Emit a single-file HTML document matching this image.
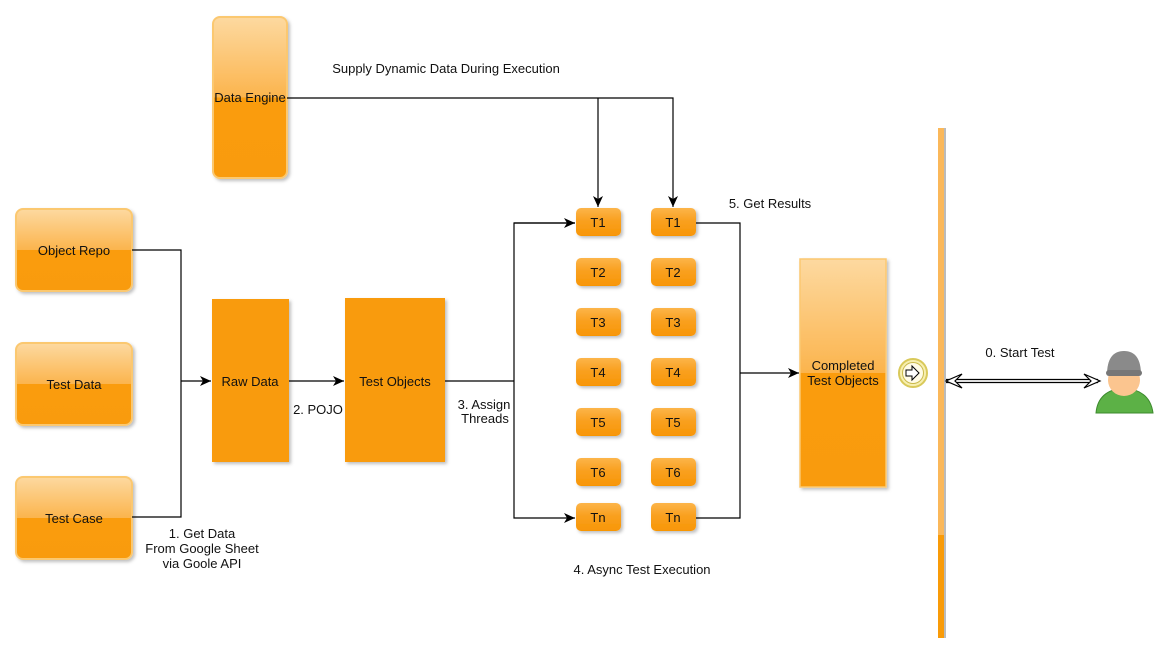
<!DOCTYPE html>
<html><head><meta charset="utf-8"><style>
body{margin:0;background:#fff;}
svg{display:block;font-family:"Liberation Sans","DejaVu Sans",sans-serif;font-size:13px;}
</style></head><body>
<svg width="1168" height="654" viewBox="0 0 1168 654" xmlns="http://www.w3.org/2000/svg">
<defs>
<linearGradient id="g" x1="0" y1="0" x2="0" y2="1">
<stop offset="0" stop-color="#fdd9a0"/><stop offset="0.5" stop-color="#fbb44d"/><stop offset="0.5" stop-color="#fa9c0c"/><stop offset="1" stop-color="#f99b08"/>
</linearGradient>
<linearGradient id="t" x1="0" y1="0" x2="0" y2="1">
<stop offset="0" stop-color="#fcb54a"/><stop offset="0.45" stop-color="#f9a020"/><stop offset="1" stop-color="#f89605"/>
</linearGradient>
<marker id="a" markerWidth="12" markerHeight="10" refX="11" refY="5" orient="auto" markerUnits="userSpaceOnUse"><path d="M0,0 L11,5 L0,10 L3,5 Z" fill="#000"/></marker>
<filter id="s" x="-10%" y="-10%" width="130%" height="130%"><feDropShadow dx="2" dy="2" stdDeviation="1.5" flood-color="#000" flood-opacity="0.25"/></filter>
</defs>

<g stroke="#fbc870" stroke-width="2" fill="url(#g)" filter="url(#s)">
<rect x="213" y="17" width="74" height="161" rx="7"/>
<rect x="16" y="209" width="116" height="82" rx="7"/>
<rect x="16" y="343" width="116" height="82" rx="7"/>
<rect x="16" y="477" width="116" height="82" rx="7"/>
</g>
<g fill="#f99b08" filter="url(#s)">
<rect x="212" y="299" width="77" height="163"/>
<rect x="345" y="298" width="100" height="164"/>
</g>
<rect x="800" y="259" width="86" height="228" fill="url(#g)" stroke="#fbc870" stroke-width="1.5" filter="url(#s)"/>

<g fill="url(#t)" filter="url(#s)">
<rect x="576" y="208" width="45" height="28" rx="5"/><rect x="651" y="208" width="45" height="28" rx="5"/>
<rect x="576" y="258" width="45" height="28" rx="5"/><rect x="651" y="258" width="45" height="28" rx="5"/>
<rect x="576" y="308" width="45" height="28" rx="5"/><rect x="651" y="308" width="45" height="28" rx="5"/>
<rect x="576" y="358" width="45" height="28" rx="5"/><rect x="651" y="358" width="45" height="28" rx="5"/>
<rect x="576" y="408" width="45" height="28" rx="5"/><rect x="651" y="408" width="45" height="28" rx="5"/>
<rect x="576" y="458" width="45" height="28" rx="5"/><rect x="651" y="458" width="45" height="28" rx="5"/>
<rect x="576" y="503" width="45" height="28" rx="5"/><rect x="651" y="503" width="45" height="28" rx="5"/>
</g>

<rect x="938" y="128" width="6" height="510" fill="#fbb85a"/>
<rect x="938" y="535" width="6" height="103" fill="#f99b08"/>
<rect x="944" y="128" width="2" height="510" fill="#bbb"/>

<g stroke="#000" stroke-width="1.2" fill="none">
<polyline points="132,250 181,250 181,517 132,517"/>
<line x1="181" y1="381" x2="211" y2="381" marker-end="url(#a)"/>
<line x1="289" y1="381" x2="344" y2="381" marker-end="url(#a)"/>
<polyline points="445,381 514,381"/>
<polyline points="575,223 514,223 514,518 575,518" marker-end="url(#a)"/>
<line x1="514" y1="223" x2="575" y2="223" marker-end="url(#a)"/>
<polyline points="287,98 673,98 673,207" marker-end="url(#a)"/>
<line x1="598" y1="98" x2="598" y2="207" marker-end="url(#a)"/>
<polyline points="696,223 740,223 740,518 696,518"/>
<line x1="740" y1="373" x2="799" y2="373" marker-end="url(#a)"/>
<line x1="946" y1="379.5" x2="1098" y2="379.5"/>
<line x1="946" y1="382.5" x2="1098" y2="382.5"/>
<path d="M962,374 L946,381 L962,388 L955,381 Z" fill="#fff"/>
<path d="M1084,374 L1100,381 L1084,388 L1091,381 Z" fill="#fff"/>
</g>

<circle cx="913" cy="373" r="14" fill="#f7efb0" stroke="#d9c95a" stroke-width="2"/>
<circle cx="913" cy="373" r="10.5" fill="#fffbe6" stroke="#c9b94a" stroke-width="1"/>
<path d="M906,370 L912,370 L912,366 L919,373 L912,380 L912,376 L906,376 Z" fill="#fff" stroke="#000" stroke-width="1"/>

<path d="M1096,413 Q1098,390 1124,388 Q1150,390 1153,413 Z" fill="#5cb146" stroke="#3d8a2e" stroke-width="1"/>
<ellipse cx="1124" cy="380" rx="16" ry="16" fill="#fbc58f"/>
<path d="M1107,375 Q1107,351 1124,351 Q1141,351 1141,375 Z" fill="#8a8a8a"/>
<rect x="1106" y="370" width="36" height="6" rx="3" fill="#777"/>

<g fill="#111" text-anchor="middle">
<text x="250" y="102">Data Engine</text>
<text x="74" y="255">Object Repo</text>
<text x="74" y="389">Test Data</text>
<text x="74" y="523">Test Case</text>
<text x="250" y="386">Raw Data</text>
<text x="395" y="386">Test Objects</text>
<text x="843" y="370">Completed</text>
<text x="843" y="385">Test Objects</text>
<text x="598" y="227">T1</text><text x="673" y="227">T1</text>
<text x="598" y="277">T2</text><text x="673" y="277">T2</text>
<text x="598" y="327">T3</text><text x="673" y="327">T3</text>
<text x="598" y="377">T4</text><text x="673" y="377">T4</text>
<text x="598" y="427">T5</text><text x="673" y="427">T5</text>
<text x="598" y="477">T6</text><text x="673" y="477">T6</text>
<text x="598" y="522">Tn</text><text x="673" y="522">Tn</text>
<text x="446" y="73">Supply Dynamic Data During Execution</text>
<text x="770" y="208">5. Get Results</text>
<text x="1020" y="357">0. Start Test</text>
<text x="202" y="538">1. Get Data</text>
<text x="202" y="553">From Google Sheet</text>
<text x="202" y="568">via Goole API</text>
<text x="318" y="414">2. POJO</text>
<text x="484" y="409">3. Assign</text>
<text x="485" y="423">Threads</text>
<text x="642" y="574">4. Async Test Execution</text>
</g>
</svg>
</body></html>
